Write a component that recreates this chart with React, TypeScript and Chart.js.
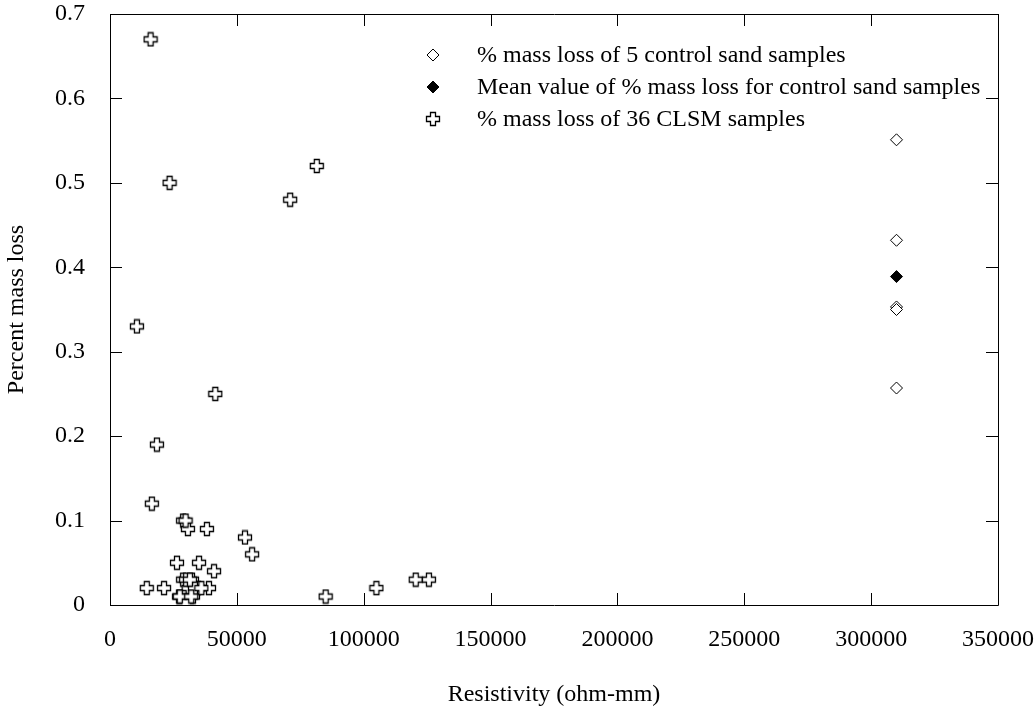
import React, { useEffect, useRef } from "react";
import { Chart, registerables } from "chart.js";

Chart.register(...registerables);

// ---- data ----
const clsmResistivity = [
  16000, 23500, 71000, 81500, 10600, 41500, 18500, 16500, 28800, 30700, 38200, 53200,
  56000, 26400, 35100, 41000, 28800, 32300, 14500, 21300, 31000, 34700, 39000, 27200,
  32700, 85000, 105000, 120500, 125700, 30000, 33500, 29800, 31500, 27500, 32000, 36000,
];
const clsmMassLoss = [
  0.67, 0.5, 0.48, 0.52, 0.33, 0.25, 0.19, 0.12, 0.1, 0.09, 0.09, 0.08,
  0.06, 0.05, 0.05, 0.04, 0.03, 0.03, 0.02, 0.02, 0.02, 0.02, 0.02, 0.01,
  0.01, 0.01, 0.02, 0.03, 0.03, 0.03, 0.02, 0.1, 0.03, 0.01, 0.01, 0.02,
];
const controlResistivity = [310000, 310000, 310000, 310000, 310000];
const controlMassLoss = [0.551, 0.432, 0.353, 0.35, 0.257];
const meanResistivity = [310000];
const meanMassLoss = [0.389];

const seriesLabels = [
  "% mass loss of 5 control sand samples",
  "Mean value of % mass loss for control sand samples",
  "% mass loss of 36 CLSM samples",
];
const xTickValues = [0, 50000, 100000, 150000, 200000, 250000, 300000, 350000];
const yTickValues = [0, 0.1, 0.2, 0.3, 0.4, 0.5, 0.6, 0.7];
const xTitle = "Resistivity (ohm-mm)";
const yTitle = "Percent mass loss";

const FONT = "'Liberation Serif', 'Times New Roman', serif";
const FONT_SIZE = 24;
const INK = "#000000";

function makeCrossMarker(): HTMLCanvasElement {
  const c = document.createElement("canvas");
  c.width = 16;
  c.height = 16;
  const g = c.getContext("2d")!;
  const cx = 8, cy = 8, a = 2.5, l = 6.5;
  g.beginPath();
  g.moveTo(cx - a, cy - l);
  g.lineTo(cx + a, cy - l);
  g.lineTo(cx + a, cy - a);
  g.lineTo(cx + l, cy - a);
  g.lineTo(cx + l, cy + a);
  g.lineTo(cx + a, cy + a);
  g.lineTo(cx + a, cy + l);
  g.lineTo(cx - a, cy + l);
  g.lineTo(cx - a, cy + a);
  g.lineTo(cx - l, cy + a);
  g.lineTo(cx - l, cy - a);
  g.lineTo(cx - a, cy - a);
  g.closePath();
  g.fillStyle = "#ffffff";
  g.fill();
  g.lineWidth = 1.3;
  g.strokeStyle = INK;
  g.stroke();
  return c;
}

const frameAndTicks = {
  id: "frameAndTicks",
  afterDraw(chart: any) {
    const { ctx, chartArea: a, scales } = chart;
    const len = 12;
    ctx.save();
    ctx.strokeStyle = INK;
    ctx.lineWidth = 1;
    ctx.beginPath();
    ctx.rect(Math.round(a.left) + 0.5, Math.round(a.top) + 0.5, Math.round(a.right - a.left), Math.round(a.bottom - a.top));
    for (const t of scales.x.ticks) {
      const px = Math.round(scales.x.getPixelForValue(t.value)) + 0.5;
      ctx.moveTo(px, a.bottom);
      ctx.lineTo(px, a.bottom - len);
      ctx.moveTo(px, a.top);
      ctx.lineTo(px, a.top + len);
    }
    for (const t of scales.y.ticks) {
      const py = Math.round(scales.y.getPixelForValue(t.value)) + 0.5;
      ctx.moveTo(a.left, py);
      ctx.lineTo(a.left + len, py);
      ctx.moveTo(a.right, py);
      ctx.lineTo(a.right - len, py);
    }
    ctx.stroke();
    ctx.restore();
  },
};

const insideLegend = {
  id: "insideLegend",
  afterDraw(chart: any) {
    const { ctx } = chart;
    const markerX = 433;
    const textX = 477;
    const rows = [55, 87, 119];
    ctx.save();
    ctx.font = `${FONT_SIZE}px ${FONT}`;
    ctx.textBaseline = "middle";
    ctx.textAlign = "left";
    chart.data.datasets.forEach((ds: any, i: number) => {
      const y = rows[i];
      if (ds.pointStyle === "rectRot") {
        const r = ds.pointRadius;
        ctx.beginPath();
        ctx.moveTo(markerX - r, y);
        ctx.lineTo(markerX, y - r);
        ctx.lineTo(markerX + r, y);
        ctx.lineTo(markerX, y + r);
        ctx.closePath();
        ctx.fillStyle = ds.backgroundColor;
        ctx.fill();
        ctx.lineWidth = ds.borderWidth;
        ctx.strokeStyle = ds.borderColor;
        ctx.stroke();
      } else if (ds.pointStyle instanceof HTMLCanvasElement) {
        const img = ds.pointStyle;
        ctx.drawImage(img, markerX - img.width / 2, y - img.height / 2);
      }
      ctx.fillStyle = INK;
      ctx.fillText(ds.label, textX, y + 1);
    });
    ctx.restore();
  },
};

export default function App() {
  const ref = useRef<HTMLCanvasElement | null>(null);

  useEffect(() => {
    if (!ref.current) return;
    const cross = makeCrossMarker();
    const chart = new Chart(ref.current, {
      type: "scatter",
      data: {
        datasets: [
          {
            label: seriesLabels[0],
            data: controlResistivity.map((x, i) => ({ x, y: controlMassLoss[i] })),
            pointStyle: "rectRot",
            pointRadius: 6,
            backgroundColor: "#ffffff",
            borderColor: INK,
            borderWidth: 1,
          },
          {
            label: seriesLabels[1],
            data: meanResistivity.map((x, i) => ({ x, y: meanMassLoss[i] })),
            pointStyle: "rectRot",
            pointRadius: 6,
            backgroundColor: INK,
            borderColor: INK,
            borderWidth: 1,
          },
          {
            label: seriesLabels[2],
            data: clsmResistivity.map((x, i) => ({ x, y: clsmMassLoss[i] })),
            pointStyle: cross as any,
            pointRadius: 7,
            backgroundColor: "#ffffff",
            borderColor: INK,
            borderWidth: 1,
          },
        ],
      },
      options: {
        animation: false,
        responsive: false,
        layout: { padding: { left: 0, top: 14, right: 36, bottom: 0 } },
        plugins: {
          legend: { display: false },
          tooltip: { enabled: false },
        },
        scales: {
          x: {
            type: "linear",
            min: 0,
            max: 350000,
            afterBuildTicks: (s: any) => {
              s.ticks = xTickValues.map((v) => ({ value: v }));
            },
            afterFit: (s: any) => {
              s.height = 106;
              s.paddingLeft = 0;
              s.paddingRight = 0;
            },
            grid: { display: false, drawTicks: false },
            border: { display: false },
            ticks: {
              padding: 20,
              color: INK,
              font: { family: FONT, size: FONT_SIZE },
              maxRotation: 0,
              autoSkip: false,
              callback: (v: any) => String(v),
            },
            title: {
              display: true,
              text: xTitle,
              color: INK,
              font: { family: FONT, size: FONT_SIZE },
              padding: { top: 0, bottom: 2 },
            },
          },
          y: {
            type: "linear",
            min: 0,
            max: 0.7,
            afterBuildTicks: (s: any) => {
              s.ticks = yTickValues.map((v) => ({ value: v }));
            },
            afterFit: (s: any) => {
              s.width = 110;
              s.paddingTop = 0;
              s.paddingBottom = 0;
            },
            grid: { display: false, drawTicks: false },
            border: { display: false },
            ticks: {
              padding: 25,
              color: INK,
              font: { family: FONT, size: FONT_SIZE },
              autoSkip: false,
              callback: (v: any) => String(Math.round(v * 10) / 10),
            },
            title: {
              display: true,
              text: yTitle,
              color: INK,
              font: { family: FONT, size: FONT_SIZE },
              padding: { top: 2, bottom: 0 },
            },
          },
        },
      },
      plugins: [frameAndTicks, insideLegend],
    });
    return () => chart.destroy();
  }, []);

  return (
    <div style={{ position: "fixed", left: 0, top: 0, width: 1034, height: 711, background: "#fff" }}>
      <canvas ref={ref} width={1034} height={711} />
    </div>
  );
}
